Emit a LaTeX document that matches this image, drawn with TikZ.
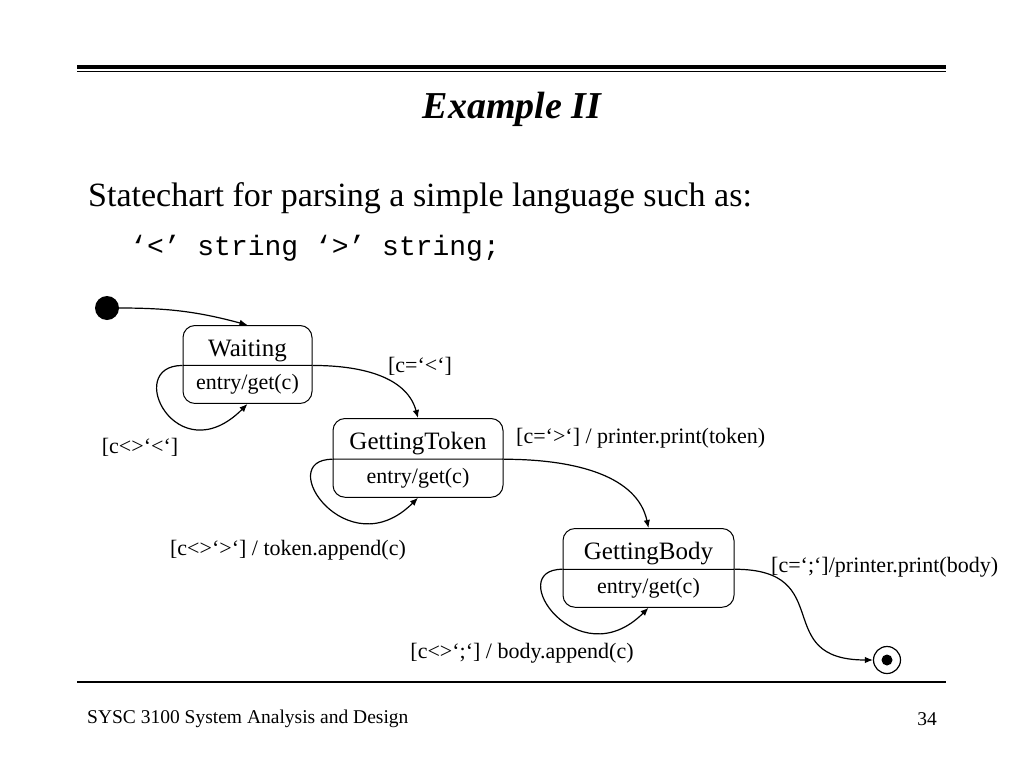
\documentclass[tikz,border=0pt]{standalone}
\usepackage{fontspec}
\setmainfont{Liberation Serif}
\setmonofont{Liberation Mono}
\usetikzlibrary{arrows.meta}
\usetikzlibrary{shapes.multipart}
\newcommand{\stname}[1]{\raisebox{-5pt}[\height][\depth]{#1}}

\begin{document}
\begin{tikzpicture}[x=1pt,y=1pt,
	state/.style={draw, rectangle split, rectangle split parts=2, rounded corners=12pt, line width=1pt, inner ysep=8.5pt, anchor=north, font=\fontsize{25}{29}\selectfont},
	trans/.style={-{Latex[length=8pt,width=6.5pt]}, line width=1.2pt},
	lbl/.style={inner sep=0pt, font=\fontsize{22}{26}\selectfont}]
					\useasboundingbox (0,0) rectangle (1024,-768);
					%draw rules
					\draw[line width=4pt] (77,-67) -- (946,-67);
					\draw[line width=1.2pt] (77,-71.5) -- (946,-71.5);
					\draw[line width=1.3pt] (77,-682) -- (946,-682);
					%add texts
					\node[font=\fontsize{38}{44}\selectfont\bfseries\itshape] (title) at (512,-109) {Example II};
					\node[anchor=west, inner sep=0pt, font=\fontsize{34}{40}\selectfont] (intro) at (88,-198) {Statechart for parsing a simple language such as:};
					\node[anchor=west, inner sep=0pt, font=\fontsize{28}{32}\selectfont\ttfamily] (lang) at (130,-248) {‘<’ string ‘>’ string;};
					\node[anchor=west, inner sep=0pt, font=\fontsize{19.5}{23}\selectfont] (course) at (87,-719) {SYSC 3100 System Analysis and Design};
					\node[inner sep=0pt, font=\fontsize{19.5}{23}\selectfont] (page) at (927,-719) {34};
					%take states
					\node[circle, fill, minimum size=24pt, inner sep=0pt] (init) at (107,-308) {};
					\node[state, minimum width=129pt] (waiting) at (247.5,-325) {\stname{Waiting}\nodepart{two}\fontsize{22}{26}\selectfont entry/get(c)};
					\node[state, minimum width=170pt] (token) at (418,-418) {\stname{GettingToken}\nodepart{two}\fontsize{22}{26}\selectfont entry/get(c)};
					\node[state, minimum width=171pt] (body) at (648.5,-528) {\stname{GettingBody}\nodepart{two}\fontsize{22}{26}\selectfont entry/get(c)};
					\node[circle, draw, line width=1.2pt, minimum size=27pt, inner sep=0pt] (final) at (887,-660) {};
					\node[circle, fill, minimum size=11pt, inner sep=0pt] (finaldot) at (final) {};
					%add transitions
					\draw[trans] (init) to[out=0, in=165] (waiting.north);
					\draw[trans] (waiting.text split west) .. controls +(180:60) and +(-135:100) .. (waiting.south);
					\draw[trans] (waiting.text split east) .. controls +(0:55) and +(105:40) .. (token.north);
					\draw[trans] (token.text split west) .. controls +(180:60) and +(-135:100) .. (token.south);
					\draw[trans] (token.text split east) .. controls +(0:75) and +(102:52) .. (body.north);
					\draw[trans] (body.text split west) .. controls +(180:60) and +(-135:100) .. (body.south);
					\draw[trans] (body.text split east) to[out=0, in=180, looseness=1.6] (final.west);
					%add guards
					\node[lbl] (gwait) at (420,-366) {[c=‘<‘]};
					\node[lbl] (gloopw) at (140,-447) {[c<>‘<‘]};
					\node[lbl, anchor=west] (gtoken) at (516,-438) {[c=‘>‘] / printer.print(token)};
					\node[lbl] (gloopt) at (288,-550) {[c<>‘>‘] / token.append(c)};
					\node[lbl, anchor=west] (gbody) at (771,-567) {[c=‘;‘]/printer.print(body)};
					\node[lbl] (gloopb) at (522,-653) {[c<>‘;‘] / body.append(c)};
				\end{tikzpicture}
\end{document}
